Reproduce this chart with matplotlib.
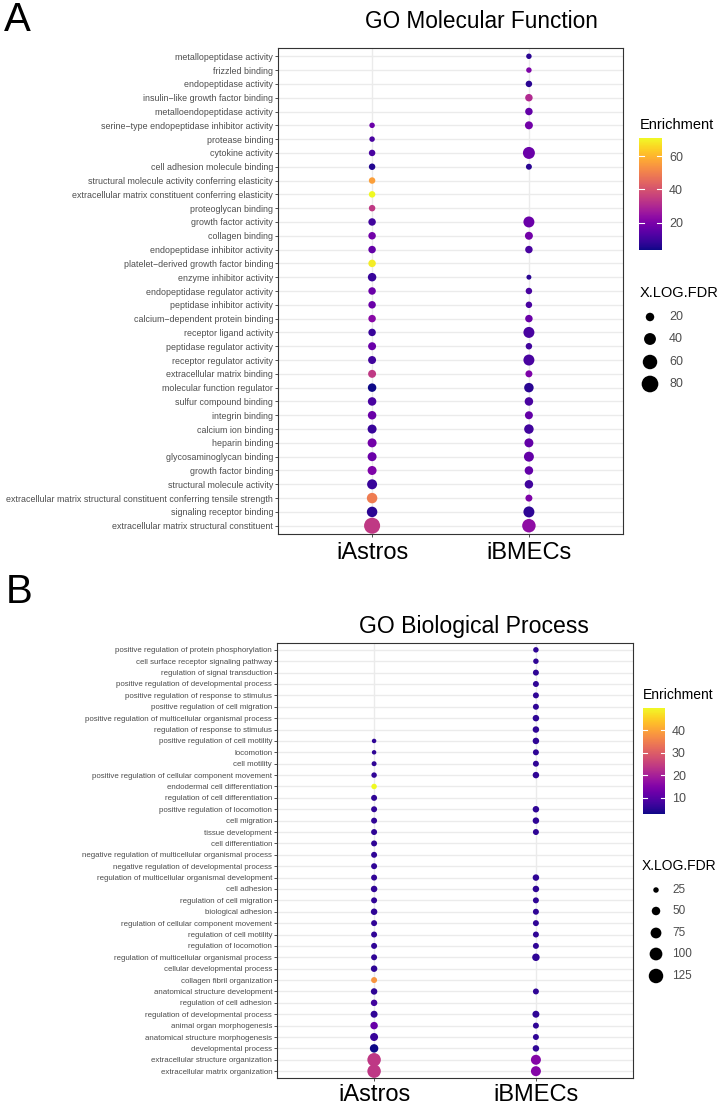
import numpy as np
import matplotlib
matplotlib.use("Agg")
import matplotlib.pyplot as plt
from matplotlib import cm, colors

nan = np.nan

# ---- GO Molecular Function ----
mf_terms = [
    "metallopeptidase activity", "frizzled binding", "endopeptidase activity",
    "insulin\u2212like growth factor binding", "metalloendopeptidase activity",
    "serine\u2212type endopeptidase inhibitor activity", "protease binding", "cytokine activity",
    "cell adhesion molecule binding", "structural molecule activity conferring elasticity",
    "extracellular matrix constituent conferring elasticity", "proteoglycan binding",
    "growth factor activity", "collagen binding", "endopeptidase inhibitor activity",
    "platelet\u2212derived growth factor binding", "enzyme inhibitor activity",
    "endopeptidase regulator activity", "peptidase inhibitor activity",
    "calcium\u2212dependent protein binding", "receptor ligand activity",
    "peptidase regulator activity", "receptor regulator activity", "extracellular matrix binding",
    "molecular function regulator", "sulfur compound binding", "integrin binding",
    "calcium ion binding", "heparin binding", "glycosaminoglycan binding", "growth factor binding",
    "structural molecule activity",
    "extracellular matrix structural constituent conferring tensile strength",
    "signaling receptor binding", "extracellular matrix structural constituent",
]
mf_astros_enrich = [nan, nan, nan, nan, nan, 17.1, 11.8, 11.8, 6.0, 56.0, 70.8, 33.9, 10.4, 18.5,
                    15.8, 68.8, 9.1, 17.1, 17.1, 22.5, 9.1, 17.1, 10.4, 33.9, 3.7, 11.8, 17.1, 9.1,
                    18.5, 17.1, 20.5, 9.1, 49.3, 7.1, 33.9]
mf_astros_fdr = [nan, nan, nan, nan, nan, 8.0, 8.0, 11.4, 11.4, 11.4, 11.4, 11.4, 15.4, 15.4,
                 15.4, 15.4, 20.0, 15.4, 15.4, 15.4, 15.4, 17.6, 17.6, 17.6, 20.0, 20.0, 20.0, 22.5,
                 22.5, 22.5, 22.5, 27.9, 30.9, 30.9, 74.0]
mf_bmecs_enrich = [7.1, 20.5, 7.1, 30.5, 15.8, 18.5, nan, 17.1, 7.1, nan, nan, nan, 17.1, 18.5,
                   11.8, nan, 7.1, 11.8, 11.8, 17.1, 11.8, 10.4, 11.8, 20.5, 7.1, 11.8, 15.8, 10.4,
                   15.8, 15.8, 15.8, 10.4, 20.5, 7.5, 23.8]
mf_bmecs_fdr = [8.0, 8.0, 11.4, 15.4, 15.4, 17.6, nan, 40.7, 9.6, nan, nan, nan, 34.1, 17.6,
                15.4, nan, 6.5, 11.4, 11.4, 15.4, 34.1, 11.4, 34.1, 13.3, 25.2, 20.0, 17.6, 25.2,
                22.5, 27.9, 20.0, 20.0, 13.3, 34.1, 51.9]
mf_size_breaks = [20, 40, 60, 80]
mf_color_ticks = [20, 40, 60]

# ---- GO Biological Process ----
bp_terms = [
    "positive regulation of protein phosphorylation", "cell surface receptor signaling pathway",
    "regulation of signal transduction", "positive regulation of developmental process",
    "positive regulation of response to stimulus", "positive regulation of cell migration",
    "positive regulation of multicellular organismal process", "regulation of response to stimulus",
    "positive regulation of cell motility", "locomotion", "cell motility",
    "positive regulation of cellular component movement", "endodermal cell differentiation",
    "regulation of cell differentiation", "positive regulation of locomotion", "cell migration",
    "tissue development", "cell differentiation",
    "negative regulation of multicellular organismal process",
    "negative regulation of developmental process",
    "regulation of multicellular organismal development", "cell adhesion",
    "regulation of cell migration", "biological adhesion",
    "regulation of cellular component movement", "regulation of cell motility",
    "regulation of locomotion", "regulation of multicellular organismal process",
    "cellular developmental process", "collagen fibril organization",
    "anatomical structure development", "regulation of cell adhesion",
    "regulation of developmental process", "animal organ morphogenesis",
    "anatomical structure morphogenesis", "developmental process",
    "extracellular structure organization", "extracellular matrix organization",
]
bp_astros_enrich = [nan] * 8 + [5.5, 5.5, 5.5, 5.8, 49.9, 5.6, 5.8, 5.8, 5.6, 5.5, 5.6, 5.6, 5.8,
                                5.8, 5.8, 5.6, 5.8, 5.8, 5.6, 5.6, 5.4, 38.1, 5.6, 7.4, 5.8, 12.1,
                                6.5, 2.7, 23.9, 23.9]
bp_astros_fdr = [nan] * 8 + [18.6, 18.6, 21.7, 25.0, 25.0, 28.5, 28.5, 28.5, 28.5, 28.5, 28.5,
                             28.5, 28.5, 32.3, 28.5, 32.3, 28.5, 28.5, 28.5, 28.5, 32.3, 28.5,
                             32.3, 32.3, 36.4, 40.6, 45.0, 49.8, 110.0, 110.0]
bp_bmecs_enrich = [5.5, 5.5, 5.5, 5.5, 5.5, 5.5, 5.5, 5.5, 5.5, 5.5, 5.5, 5.5, nan, nan, 5.5, 5.5,
                   5.5, nan, nan, nan, 5.5, 5.5, 5.5, 5.5, 5.5, 5.5, 5.5, 5.5, nan, nan, 5.5, nan,
                   5.5, 5.5, 5.5, 5.5, 15.4, 15.4]
bp_bmecs_fdr = [25.0, 25.0, 28.5, 28.5, 28.5, 28.5, 32.3, 32.3, 32.3, 28.5, 28.5, 32.3, nan, nan,
                32.3, 32.3, 28.5, nan, nan, nan, 32.3, 32.3, 28.5, 28.5, 28.5, 28.5, 28.5, 40.6,
                nan, nan, 28.5, nan, 36.4, 28.5, 28.5, 32.3, 65.5, 65.5]
bp_size_breaks = [25, 50, 75, 100, 125]
bp_color_ticks = [10, 20, 30, 40]

groups = ["iAstros", "iBMECs"]

plt.rcParams['font.family'] = ['Liberation Sans', 'DejaVu Sans']
W, H = 718, 1110
fig = plt.figure(figsize=(W / 100, H / 100), dpi=100)

# size scale: diameter(px) = a + b * sqrt(value)
MF_A, MF_B = 0.3, 1.83
BP_A, BP_B = -1.8, 1.456


def px_box(l, t, r, b):
    return [l / W, 1 - b / H, (r - l) / W, (b - t) / H]


def dot_size(v, a, b):
    # diameter in px -> scatter area in pt^2
    d = a + b * np.sqrt(np.asarray(v, float))
    return (d * 0.72) ** 2


def dot_panel(box, terms, enrich, fdr, a, b, label_size, xpad):
    ax = fig.add_axes(px_box(*box))
    n = len(terms)
    allv = np.concatenate([np.asarray(e, float) for e in enrich])
    norm = colors.Normalize(np.nanmin(allv), np.nanmax(allv))
    for i, (e, f) in enumerate(zip(enrich, fdr)):
        e = np.asarray(e, float)
        f = np.asarray(f, float)
        m = ~np.isnan(e)
        ax.scatter(np.full(m.sum(), i), np.arange(n)[m], s=dot_size(f[m], a, b), c=e[m],
                   cmap='plasma', norm=norm, linewidths=0, zorder=3)
    ax.set_xlim(-0.6, len(groups) - 0.4)
    ax.set_ylim(n - 0.4, -0.6)
    ax.set_yticks(range(n))
    ax.set_yticklabels(terms, fontsize=label_size, color='#4d4d4d')
    ax.set_xticks(range(len(groups)))
    ax.set_xticklabels(groups, fontsize=17, color='black')
    ax.grid(True, color='#ebebeb', lw=1)
    ax.set_axisbelow(True)
    for sp in ax.spines.values():
        sp.set_color('#333333')
        sp.set_linewidth(0.8)
    ax.tick_params(axis='y', length=2, width=0.6, color='#333333', pad=1.5)
    ax.tick_params(axis='x', length=2, width=0.6, color='#333333', pad=xpad)
    return norm


def color_legend(norm, box, ticks):
    cax = fig.add_axes(px_box(*box))
    cb = fig.colorbar(cm.ScalarMappable(norm=norm, cmap='plasma'), cax=cax, ticks=ticks)
    cb.outline.set_visible(False)
    for t in ticks:
        cax.axhline(t, xmin=0, xmax=0.2, color='white', lw=0.8)
        cax.axhline(t, xmin=0.8, xmax=1, color='white', lw=0.8)
    cax.tick_params(length=0, labelsize=9, labelcolor='#4d4d4d', pad=5)


mf_norm = dot_panel((278, 48, 623, 534), mf_terms, [mf_astros_enrich, mf_bmecs_enrich],
                    [mf_astros_fdr, mf_bmecs_fdr], MF_A, MF_B, 6.4, 4)
bp_norm = dot_panel((277, 643, 633, 1078), bp_terms, [bp_astros_enrich, bp_bmecs_enrich],
                    [bp_astros_fdr, bp_bmecs_fdr], BP_A, BP_B, 5.7, 2.5)

color_legend(mf_norm, (639, 138, 662, 250), mf_color_ticks)
color_legend(bp_norm, (643, 708, 665, 814), bp_color_ticks)

# overlay for titles, panel letters and size legends
ov = fig.add_axes([0, 0, 1, 1])
ov.set_xlim(0, W)
ov.set_ylim(H, 0)
ov.axis('off')

narrow = ['Liberation Sans Narrow', 'Liberation Sans']
ov.text(17, 20, "A", fontsize=29, ha='center', va='center', family=narrow)
ov.text(19, 592, "B", fontsize=29, ha='center', va='center', family=narrow)
ov.text(481, 22, "GO Molecular Function", fontsize=16.3, ha='center', va='center')
ov.text(474, 627, "GO Biological Process", fontsize=16.6, ha='center', va='center')

ov.text(640, 125, "Enrichment", fontsize=10.5, ha='left', va='center')
ov.text(640, 293, "X.LOG.FDR", fontsize=10.5, ha='left', va='center')
ov.text(643, 695, "Enrichment", fontsize=10, ha='left', va='center')
ov.text(642, 866, "X.LOG.FDR", fontsize=10, ha='left', va='center')

mf_leg_y = [317, 339, 362, 384]
ov.scatter([650] * len(mf_size_breaks), mf_leg_y, s=dot_size(mf_size_breaks, MF_A, MF_B),
           color='black', linewidths=0)
for yy, v in zip(mf_leg_y, mf_size_breaks):
    ov.text(669, yy, str(v), fontsize=9, color='#4d4d4d', va='center')

bp_leg_y = [890, 911, 933, 954, 976]
ov.scatter([656] * len(bp_size_breaks), bp_leg_y, s=dot_size(bp_size_breaks, BP_A, BP_B),
           color='black', linewidths=0)
for yy, v in zip(bp_leg_y, bp_size_breaks):
    ov.text(672, yy, str(v), fontsize=8.5, color='#4d4d4d', va='center')

fig.savefig("out.png", dpi=100)
